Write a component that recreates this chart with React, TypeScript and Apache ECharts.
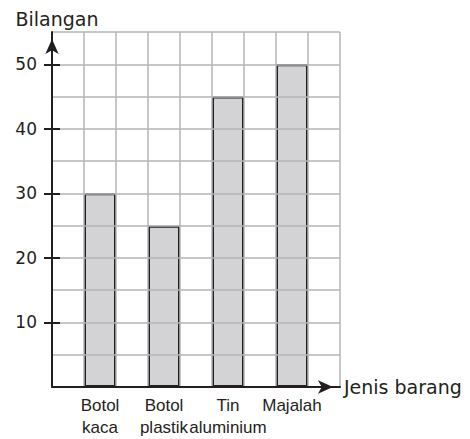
import React, { useEffect, useRef } from "react";
import * as echarts from "echarts";

const categories = ["Botol\nkaca", "Botol\nplastik", "Tin\naluminium", "Majalah"];
const values = [30, 25, 45, 50];
const yTickLabels = [10, 20, 30, 40, 50];
const yMax = 55;
const yStep = 5;

// Bars sit in every second cell of the grid, with empty cells between
const slotCats: string[] = [""];
const slotVals: (number | string)[] = ["-"];
categories.forEach((c, i) => {
  slotCats.push(c, "");
  slotVals.push(values[i], "-");
});

const INK = "#231f20";
const GRID = "#b4b4b6";

const tickAxis = (inside: boolean) => ({
  type: "value",
  position: "left",
  min: 0,
  max: yMax,
  interval: yStep,
  axisLine: { show: false },
  axisTick: { show: true, inside, length: 8, customValues: yTickLabels, lineStyle: { color: INK, width: 2 } },
  axisLabel: { show: false },
  splitLine: { show: false },
  z: 6,
});

export default function App() {
  const ref = useRef<HTMLDivElement>(null);
  useEffect(() => {
    document.body.style.margin = "0";
    const chart = echarts.init(ref.current!, null, { renderer: "svg" });
    chart.setOption({
      animation: false,
      backgroundColor: "#ffffff",
      grid: { left: 52, top: 32, right: 130, bottom: 52, containLabel: false, outerBoundsMode: "none" },
      xAxis: {
        type: "category",
        data: slotCats,
        boundaryGap: true,
        name: "Jenis barang",
        nameLocation: "end",
        nameGap: 4,
        nameTextStyle: { color: INK, fontSize: 19, fontFamily: "DejaVu Sans", align: "left", verticalAlign: "middle" },
        axisLine: {
          show: true,
          symbol: ["none", "arrow"],
          symbolSize: [10, 15],
          symbolOffset: [0, -7],
          lineStyle: { color: INK, width: 2 },
        },
        axisTick: { show: false },
        axisLabel: {
          interval: 0,
          color: INK,
          fontSize: 17,
          lineHeight: 22,
          margin: 7,
          fontFamily: "'Liberation Sans', Arial, sans-serif",
        },
        splitLine: { show: true, interval: 0, lineStyle: { color: GRID, width: 1.5 } },
        z: 5,
      },
      yAxis: [
        {
          type: "value",
          position: "left",
          min: 0,
          max: yMax,
          interval: yStep,
          name: "Bilangan",
          nameLocation: "end",
          nameGap: 4,
          nameTextStyle: { color: INK, fontSize: 19, fontFamily: "DejaVu Sans", padding: [0, 0, 0, 10] },
          axisLine: {
            show: true,
            symbol: ["none", "arrow"],
            symbolSize: [10, 15],
            symbolOffset: [0, -7],
            lineStyle: { color: INK, width: 2 },
          },
          axisTick: { show: false },
          axisLabel: {
            color: INK,
            fontSize: 17,
            fontFamily: "DejaVu Sans",
            margin: 15,
            formatter: (v: number) => (yTickLabels.indexOf(v) >= 0 ? String(v) : ""),
          },
          splitLine: { show: true, lineStyle: { color: GRID, width: 1.5 } },
          z: 5,
        },
        tickAxis(false),
        tickAxis(true),
      ],
      series: [
        {
          type: "bar",
          data: slotVals,
          barWidth: "100%",
          itemStyle: { color: "#d3d3d5", borderColor: INK, borderWidth: 2 },
          z: 2,
        },
      ],
    });
    return () => chart.dispose();
  }, []);
  return <div ref={ref} style={{ width: 470, height: 439, position: "fixed", left: 0, top: 0 }} />;
}
